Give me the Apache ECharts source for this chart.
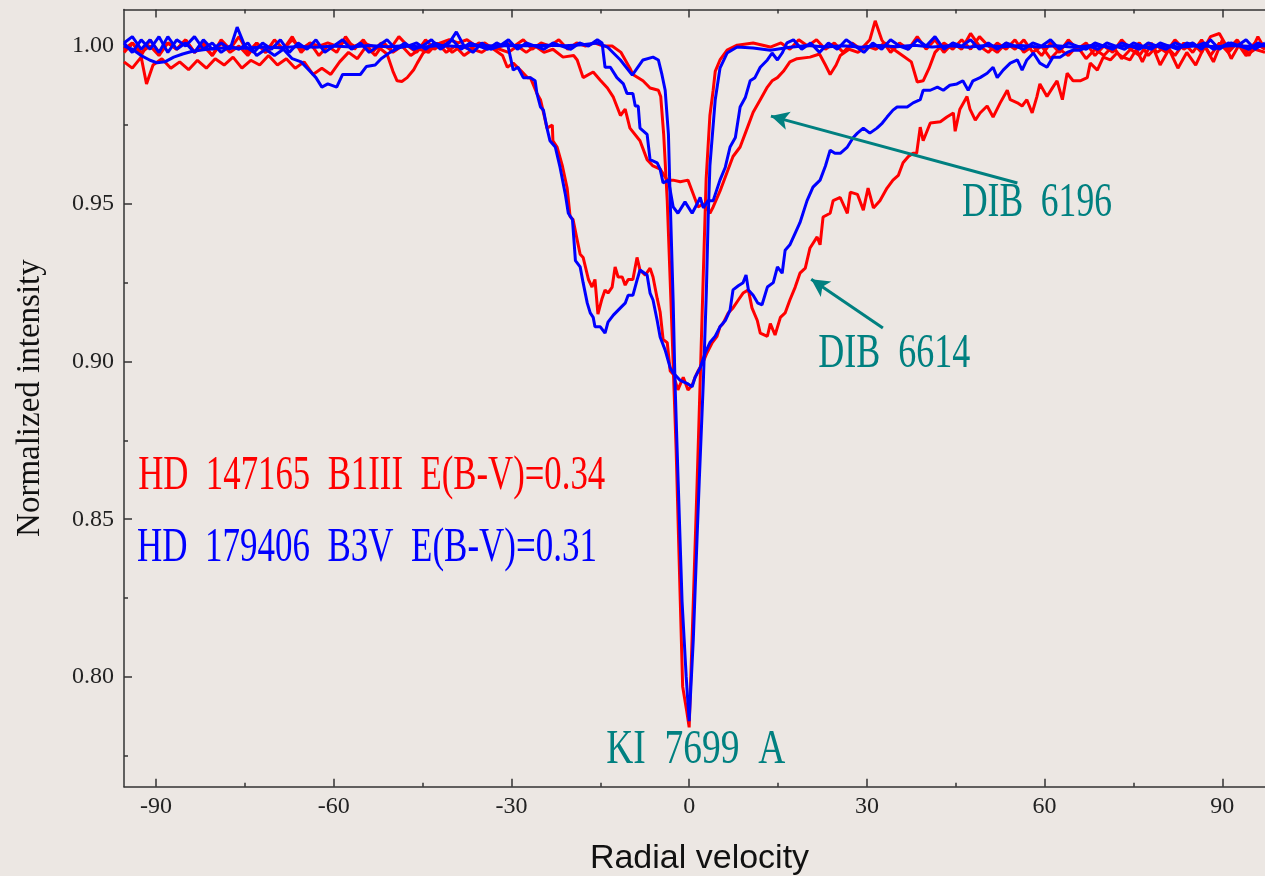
<!DOCTYPE html>
<html><head><meta charset="utf-8">
<script src="https://cdn.jsdelivr.net/npm/echarts@6/dist/echarts.min.js"></script>
<style>html,body{margin:0;padding:0;background:#ece7e3;}#c{width:1265px;height:876px;}</style>
</head><body><div id="c"></div>
<script>
// ---------- DATA: [radial velocity, normalized intensity] ----------
const kiRed = [[-95.4,0.998],[-94,1.001],[-92.5,0.997],[-91,1.002],[-89.5,0.998],[-88,1.001],[-86.5,0.999],[-85,1.002],[-83.5,0.998],[-82,1.001],[-80.5,0.997],[-79,1.002],[-77.5,0.999],[-76,1.003],[-74.5,0.998],[-73,1.001],[-71.5,0.998],[-70,1.002],[-68.5,0.999],[-67,1.003],[-65.5,0.998],[-64,1.001],[-62.5,0.997],[-61,1.000],[-59.5,0.998],[-58,1.003],[-56.5,0.999],[-55,1.002],[-53.5,0.998],[-52,1.001],[-50.5,0.999],[-49,1.003],[-47.5,1.000],[-46,0.998],[-44.5,1.002],[-43,0.999],[-41.5,1.001],[-40,0.998],[-38.5,1.000],[-37,0.999],[-35.5,1.001],[-34,1.000],[-32.5,0.999],[-31,1.001],[-29.5,1.000],[-28,1.002],[-26.5,0.999],[-25,1.001],[-23.5,1.000],[-22,1.002],[-20.5,0.999],[-19,1.001],[-17.5,1.000],[-16,1.001],[-14.5,1.000],[-13,1.000],[-11.5,0.998],[-10,0.993],[-9.5,0.991],[-7.8,0.989],[-6.6,0.9867],[-5.2,0.986],[-4.8,0.984],[-4.3,0.972],[-3.7,0.951],[-2.9,0.91],[-2.2,0.872],[-1.5,0.824],[-1.1,0.797],[-0.4,0.789],[0,0.784],[0.7,0.824],[1.35,0.862],[1.86,0.894],[2.36,0.926],[2.87,0.958],[3.5,0.978],[4.05,0.986],[4.4,0.992],[5.2,0.9956],[6.4,0.9987],[8.1,1.0003],[10.8,1.001],[13.7,0.9997],[15.5,1.001],[17,0.999],[18.5,1.002],[20,1.000],[21.5,1.002],[23,0.999],[24.5,1.001],[26,0.998],[27.5,1.001],[29,0.999],[30.5,1.002],[31.4,1.008],[32.5,1.002],[34,0.998],[35.5,1.001],[37,0.999],[38.5,1.003],[40,0.999],[41.5,1.002],[43,0.998],[44.5,1.001],[46,0.999],[47.5,1.004],[49,1.000],[50.5,0.998],[52,1.001],[53.5,0.999],[55,1.002],[56.5,0.998],[58,1.000],[59.5,0.997],[61,1.001],[62.5,0.998],[64,1.002],[65.5,0.999],[67,1.001],[68.5,0.997],[70,1.000],[71.5,0.998],[73,1.002],[74.5,0.999],[76,1.001],[77.5,0.997],[79,1.000],[80.5,0.998],[82,1.002],[83.5,0.999],[85,1.001],[86.5,0.998],[88,1.003],[89.5,1.004],[91,0.999],[92.5,1.002],[94,0.998],[95.5,1.001],[97.2,0.999]];

const kiBlue = [[-95.4,1.000],[-94,0.999],[-92.5,0.997],[-91,0.9955],[-89.8,0.9947],[-88.5,0.995],[-87,0.9965],[-85.5,0.9975],[-84,0.9983],[-82,0.9988],[-80,0.9992],[-78,0.9995],[-75,0.9993],[-72,0.9997],[-69,0.9995],[-66,0.9999],[-63,0.9996],[-60,1.000],[-57,0.9997],[-54,1.0002],[-51,0.9998],[-48,1.0001],[-45,0.9997],[-42,1.0002],[-39,0.9999],[-36,1.0003],[-33,1.0000],[-30,1.0002],[-27,1.0001],[-24,1.0003],[-21,1.0001],[-18,1.0004],[-15.5,1.001],[-13.8,0.9997],[-11.6,0.9956],[-9.6,0.9908],[-7.8,0.9956],[-6.1,0.9965],[-5.2,0.9956],[-4.6,0.991],[-4.05,0.986],[-3.5,0.972],[-3.2,0.951],[-2.7,0.919],[-2.4,0.894],[-1.86,0.862],[-1.2,0.824],[-0.5,0.80],[0,0.786],[0.7,0.812],[1.35,0.845],[1.7,0.862],[2.4,0.894],[2.9,0.922],[3.2,0.945],[3.5,0.962],[4.4,0.983],[5.2,0.993],[6.4,0.9978],[8.1,0.9997],[10.8,0.9994],[13.7,0.9987],[17,0.9996],[20,1.0002],[23,0.9997],[26,1.0001],[29,0.9996],[32,1.0002],[35,0.9998],[38,1.0003],[41,0.9997],[44,1.0001],[47,0.9996],[50,1.0002],[53,0.9998],[56,1.0002],[59,0.9997],[62,1.0001],[65,0.9996],[68,1.0002],[71,0.9998],[74,1.0001],[77,0.9996],[80,1.0002],[83,0.9997],[86,1.0001],[89,0.9998],[92,1.0002],[95,0.9999],[97.2,1.0001]];

const dib6196Red = [[-95.4,0.995],[-94,0.993],[-92.5,0.9965],[-91.6,0.988],[-90.5,0.994],[-89,0.996],[-87.5,0.993],[-86,0.995],[-84.5,0.9925],[-83,0.9955],[-81.5,0.993],[-80,0.996],[-78.5,0.994],[-77,0.9965],[-75.5,0.993],[-74,0.9955],[-72.5,0.994],[-71,0.997],[-69.5,0.994],[-68,0.996],[-66.5,0.993],[-65,0.995],[-63.5,0.991],[-62,0.993],[-60.5,0.991],[-59,0.995],[-57.5,0.998],[-56,0.996],[-54.5,1.000],[-53,0.997],[-51.5,1.001],[-50,0.998],[-48.5,1.000],[-47,0.997],[-45.5,0.999],[-44,0.998],[-42.5,1.001],[-41,0.998],[-39.5,1.000],[-38,0.997],[-36.5,0.999],[-35,0.998],[-33.5,1.000],[-32,0.999],[-30.5,0.998],[-29,1.000],[-27.5,0.998],[-26,1.000],[-24.5,0.998],[-23,0.999],[-21.3,0.9965],[-19.5,0.997],[-18.9,0.9956],[-17.9,0.990],[-16.2,0.9918],[-15,0.9892],[-13.8,0.9867],[-12.8,0.9838],[-11.6,0.978],[-10.8,0.980],[-10,0.974],[-8.3,0.970],[-7.1,0.964],[-6.1,0.962],[-4.9,0.961],[-3.7,0.9575],[-2.7,0.9575],[-1.5,0.957],[-0.2,0.9575],[0.7,0.953],[1.5,0.949],[2.4,0.950],[3.5,0.947],[4.05,0.949],[5.2,0.954],[6.4,0.960],[7.4,0.965],[8.6,0.968],[9.8,0.974],[10.8,0.979],[12.0,0.983],[13.2,0.987],[14.0,0.989],[14.9,0.990],[15.9,0.992],[17.0,0.995],[18.2,0.996],[20.4,0.9965],[22,0.9975],[23,0.994],[23.8,0.991],[24.8,0.994],[25.5,0.997],[27,0.999],[28.5,0.998],[30,1.000],[31.5,0.999],[33,1.001],[34.5,0.999],[36,0.997],[37.5,0.995],[38.5,0.9886],[39.5,0.989],[40.5,0.993],[41.5,0.998],[43,1.001],[44.5,0.999],[46,1.002],[47.5,0.999],[49,1.003],[50.5,1.000],[52,0.998],[53.5,1.001],[55,0.999],[56.5,1.002],[58,0.998],[59.5,1.000],[61,0.996],[62.5,0.999],[64,0.997],[65.5,1.000],[67,0.996],[68.5,0.999],[70,0.997],[71.5,1.000],[73,0.996],[74.5,0.999],[76,0.997],[77.5,1.001],[79,0.998],[80.5,1.000],[82,0.997],[83.5,1.001],[85,0.998],[86.5,1.002],[88,0.997],[89.5,1.001],[91,0.998],[92.5,1.001],[94,0.997],[95.5,0.999],[97.2,0.998]];

const dib6196Blue = [[-95.4,1.001],[-94,1.003],[-92.5,0.999],[-91,1.002],[-89.5,0.998],[-88,1.003],[-86.5,0.999],[-85,1.001],[-83.5,0.998],[-82,1.002],[-80.5,0.999],[-79,1.001],[-77.5,0.999],[-76.3,1.006],[-75,1.000],[-73.5,0.998],[-72,1.001],[-70.5,0.999],[-69,1.002],[-67.5,0.998],[-66,1.001],[-64.5,0.999],[-63,1.002],[-61.5,0.998],[-60,1.000],[-58.5,1.002],[-57,0.999],[-55.5,1.001],[-54,0.998],[-52.5,1.000],[-51,1.002],[-49.5,0.999],[-48,1.001],[-46.5,0.999],[-45,1.000],[-43.5,1.002],[-42,0.999],[-40.5,1.001],[-39.3,1.0045],[-38,1.000],[-36.5,0.998],[-35,1.001],[-33.5,0.999],[-32,1.000],[-30.5,1.002],[-29,0.999],[-27.5,1.001],[-26,1.000],[-24.5,0.999],[-23,1.001],[-21.5,1.000],[-20,0.999],[-18.5,1.001],[-17,1.000],[-15.5,1.002],[-14.7,1.001],[-14.2,0.9933],[-13.3,0.9933],[-12.2,0.990],[-11.1,0.988],[-10.5,0.985],[-9.5,0.985],[-9.1,0.981],[-8.6,0.981],[-8.3,0.974],[-7.1,0.972],[-6.6,0.964],[-5.4,0.963],[-4.9,0.961],[-4.4,0.9566],[-3.5,0.9575],[-2.7,0.949],[-1.9,0.947],[-0.7,0.9506],[0.5,0.947],[1.35,0.950],[1.86,0.952],[2.4,0.9487],[3.2,0.951],[4.05,0.951],[5.2,0.9575],[6.1,0.9616],[6.9,0.968],[7.8,0.971],[8.6,0.9807],[9.5,0.9838],[10.3,0.989],[11.1,0.990],[12.0,0.9933],[13.2,0.9956],[14.0,0.9978],[14.9,0.9956],[15.7,0.9978],[16.5,1.001],[17.6,1.002],[19,0.999],[20.5,1.001],[22,0.998],[23.5,1.001],[25,0.999],[26.5,1.002],[28,1.000],[29.5,0.998],[31,1.001],[32.5,0.999],[34,1.002],[35.5,1.000],[37,0.999],[38.5,1.002],[40,1.000],[41.5,1.003],[43,0.999],[44.5,1.001],[46,1.000],[47.5,1.002],[49,0.999],[50.5,1.001],[52,0.999],[53.5,1.001],[55,1.000],[56.5,0.999],[58,1.001],[59.5,1.000],[61,1.002],[62.5,0.999],[64,1.001],[65.5,1.000],[67,0.999],[68.5,1.001],[70,1.000],[71.5,0.999],[73,1.001],[74.5,1.000],[76,0.999],[77.5,1.001],[79,1.000],[80.5,0.999],[82,1.001],[83.5,1.000],[85,1.001],[86.5,0.999],[88,1.002],[89.5,0.999],[91,1.001],[92.5,1.000],[94,1.002],[95.5,0.999],[97.2,1.001]];

const dib6614Red = [[-95.4,0.999],[-94,1.001],[-92.5,0.998],[-91,1.000],[-89.5,0.997],[-88,1.001],[-86.5,0.999],[-85,1.002],[-83.5,0.998],[-82,1.000],[-80.5,0.997],[-79,1.001],[-77.5,0.998],[-76,1.000],[-74.5,0.997],[-73,1.001],[-71.5,0.998],[-70,1.000],[-68.5,0.999],[-67,1.002],[-65.5,0.999],[-64,1.001],[-62.5,1.000],[-61,1.001],[-59.5,1.000],[-58,1.0015],[-56.5,1.000],[-55,1.001],[-53.5,1.000],[-52,0.999],[-51,0.9975],[-50,0.992],[-49.3,0.989],[-48.5,0.9888],[-47.6,0.990],[-46.5,0.9925],[-45.9,0.9946],[-44.9,0.9978],[-43.5,0.9995],[-42,1.001],[-40.5,1.002],[-39,1.001],[-37.5,1.002],[-36,1.000],[-34.5,1.001],[-33,0.999],[-31.5,0.997],[-30.7,0.9933],[-29.7,0.9946],[-28.5,0.9924],[-27.3,0.990],[-26.8,0.990],[-25.7,0.985],[-25.1,0.983],[-24.6,0.979],[-24.0,0.974],[-23.1,0.975],[-23.0,0.970],[-22.3,0.968],[-21.4,0.962],[-20.6,0.955],[-20.1,0.946],[-19.6,0.945],[-18.9,0.9385],[-18.4,0.934],[-17.9,0.933],[-17.0,0.926],[-16.4,0.9236],[-15.9,0.926],[-15.4,0.915],[-14.7,0.920],[-14.2,0.9227],[-13.7,0.9217],[-13.0,0.9236],[-12.5,0.930],[-12.0,0.9268],[-11.3,0.9268],[-10.8,0.9242],[-10.3,0.926],[-9.5,0.926],[-8.8,0.933],[-8.3,0.929],[-7.4,0.9274],[-6.6,0.9296],[-6.1,0.9268],[-5.4,0.920],[-4.9,0.9157],[-4.4,0.907],[-3.7,0.906],[-3.2,0.897],[-2.7,0.896],[-1.9,0.891],[-1.0,0.895],[-0.2,0.891],[0.5,0.8925],[1.0,0.895],[1.5,0.897],[2.4,0.900],[3.0,0.9027],[3.9,0.906],[4.7,0.908],[5.2,0.911],[5.7,0.912],[6.6,0.9154],[7.4,0.917],[8.3,0.9195],[9.1,0.9217],[10.0,0.9227],[10.6,0.917],[11.5,0.913],[12.0,0.909],[13.2,0.908],[13.7,0.912],[14.5,0.9084],[15.4,0.914],[16.2,0.9154],[17.0,0.9195],[17.9,0.9236],[18.7,0.928],[19.6,0.9296],[20.4,0.936],[21.6,0.9395],[22.1,0.937],[22.6,0.9458],[23.8,0.947],[24.3,0.951],[25.5,0.952],[26.7,0.947],[27.2,0.9537],[28.4,0.953],[29.4,0.948],[30.2,0.955],[31.1,0.9487],[32.2,0.951],[33.4,0.955],[34.4,0.9575],[35.3,0.959],[36.1,0.963],[37.0,0.965],[37.8,0.966],[38.4,0.966],[39.0,0.9743],[39.5,0.970],[40.7,0.9756],[42.4,0.976],[43.5,0.9775],[44.6,0.9788],[44.9,0.973],[45.7,0.980],[46.9,0.984],[47.4,0.980],[48.3,0.9765],[49.1,0.9788],[50.3,0.981],[51.3,0.9775],[52.5,0.982],[53.7,0.986],[54.2,0.983],[55.4,0.982],[56.2,0.981],[57.0,0.983],[57.9,0.9788],[58.7,0.984],[59.2,0.988],[60.4,0.984],[61.4,0.987],[62.1,0.989],[63.0,0.983],[63.8,0.9914],[64.8,0.989],[66.0,0.989],[67.2,0.990],[67.7,0.9946],[68.9,0.9924],[69.9,0.9965],[71.1,0.9956],[72.2,0.9978],[73.2,0.9965],[74.4,0.9956],[75.5,0.999],[76.5,0.995],[78,1.001],[79.5,0.994],[81,0.999],[82.5,0.993],[84,0.998],[85.5,0.994],[87,1.000],[88.5,0.995],[90,1.002],[91.5,0.996],[93,1.001],[94.5,0.997],[96,1.003],[97.2,0.999]];

const dib6614Blue = [[-95.4,1.001],[-94,0.998],[-92.5,1.002],[-91,0.999],[-89.5,1.003],[-88,0.998],[-86.5,1.002],[-85,1.000],[-83.5,1.003],[-82,0.999],[-80.5,1.001],[-79,0.998],[-77.5,1.000],[-76,0.999],[-74.5,1.001],[-73,0.997],[-71.5,0.999],[-70,0.997],[-68.5,0.999],[-67,0.996],[-65.5,0.995],[-64,0.992],[-63,0.990],[-62,0.987],[-61,0.988],[-59.5,0.987],[-58.5,0.991],[-57,0.991],[-55.5,0.991],[-54.5,0.9935],[-53,0.994],[-52,0.996],[-50.5,0.998],[-49,0.9995],[-47.5,1.000],[-46,1.001],[-44.5,0.999],[-43,1.001],[-41.5,1.000],[-40,1.002],[-38.5,0.999],[-37,1.001],[-35.5,1.000],[-34,0.999],[-32.5,1.001],[-31.5,1.000],[-30.7,1.001],[-29.7,0.9924],[-28.9,0.9933],[-28.0,0.990],[-26.8,0.990],[-26.0,0.989],[-25.7,0.985],[-25.1,0.9807],[-24.6,0.9797],[-24.0,0.974],[-23.5,0.970],[-22.6,0.968],[-21.8,0.9616],[-20.9,0.953],[-20.4,0.947],[-19.7,0.945],[-19.2,0.932],[-18.4,0.930],[-17.9,0.925],[-17.2,0.9185],[-16.7,0.9154],[-16.2,0.914],[-15.9,0.911],[-15.0,0.911],[-14.2,0.909],[-13.7,0.9125],[-12.8,0.9147],[-11.6,0.917],[-10.8,0.9185],[-10.3,0.921],[-9.5,0.921],[-8.8,0.9258],[-8.3,0.929],[-7.1,0.9274],[-6.6,0.9217],[-6.1,0.9195],[-5.4,0.913],[-4.9,0.9078],[-4.05,0.9036],[-3.2,0.898],[-2.7,0.8964],[-1.5,0.894],[-0.3,0.893],[0.5,0.892],[1.0,0.895],[1.86,0.898],[2.7,0.9027],[3.5,0.906],[4.4,0.908],[5.2,0.911],[6.1,0.913],[6.9,0.9163],[7.4,0.9227],[8.3,0.924],[9.1,0.925],[9.6,0.9274],[10.0,0.9227],[10.8,0.921],[11.6,0.9185],[12.3,0.918],[13.2,0.9236],[14.2,0.925],[14.9,0.930],[15.7,0.928],[16.2,0.9353],[17.0,0.937],[17.9,0.9407],[18.7,0.944],[19.9,0.951],[20.9,0.9553],[22.1,0.9575],[23.0,0.962],[23.8,0.967],[24.6,0.966],[25.5,0.966],[26.7,0.968],[27.7,0.971],[28.4,0.9724],[29.4,0.974],[30.5,0.9724],[31.7,0.974],[32.6,0.9756],[33.4,0.9775],[34.4,0.9797],[35.1,0.9807],[36.8,0.9807],[37.8,0.982],[39.0,0.983],[39.5,0.986],[40.7,0.986],[41.9,0.987],[42.9,0.986],[44.0,0.9876],[45.2,0.988],[46.2,0.989],[47.1,0.986],[47.9,0.989],[49.1,0.990],[50.3,0.9914],[51.3,0.9933],[52.0,0.990],[53.0,0.9924],[54.2,0.9946],[55.4,0.9956],[56.2,0.9924],[57.0,0.9956],[58.1,0.9978],[59.2,0.9946],[60.4,0.9933],[61.4,0.9965],[62.6,0.9965],[63.8,0.998],[64.8,0.9987],[66.0,0.9987],[67.5,1.000],[69,0.999],[70.5,1.001],[72,1.000],[73.5,0.999],[75,1.001],[76.5,1.000],[78,0.999],[79.5,1.001],[81,1.000],[82.5,0.999],[84,1.001],[85.5,1.000],[87,1.001],[88.5,0.999],[90,1.000],[91.5,1.001],[93,1.000],[94.5,0.999],[96,1.001],[97.2,1.000]];

// tick values
const xMajorTicks = [-90, -60, -30, 0, 30, 60, 90];
const xMinorTicks = [-75, -45, -15, 15, 45, 75];
const yMajorTicks = [0.80, 0.85, 0.90, 0.95, 1.00];
const yMinorTicks = [0.775, 0.825, 0.875, 0.925, 0.975];

// annotations (text anchored in data coordinates)
const annoTexts = ['HD  147165  B1III  E(B-V)=0.34', 'HD  179406  B3V  E(B-V)=0.31', 'KI  7699  A', 'DIB  6196', 'DIB  6614'];
const annoV = [-93.0, -93.2, 1.1, 58.7, 34.6];
const annoI = [0.8637, 0.8407, 0.7769, 0.9502, 0.9022];
// arrows (tail -> head) in data coordinates
const arrowFrom = [[55.4, 0.9566], [32.7, 0.9106]];
const arrowTo = [[13.8, 0.9778], [20.6, 0.9261]];

// ---------- CHART ----------
const X_MIN = -95.4, X_MAX = 97.2, Y_MIN = 0.7652, Y_MAX = 1.0116;
const SERIF = '"Liberation Serif", "Times New Roman", serif';
const SANS = '"Liberation Sans", Arial, sans-serif';
const AX = { color: '#333', width: 1.5 };
const RED = '#ff0000', BLUE = '#0000ff', TEAL = '#008080';

const annoStyle = [
  { fill: RED, size: 49, sx: 0.71, align: 'left' },
  { fill: BLUE, size: 49, sx: 0.714, align: 'left' },
  { fill: TEAL, size: 49, sx: 0.765, align: 'center' },
  { fill: TEAL, size: 48, sx: 0.74, align: 'center' },
  { fill: TEAL, size: 48, sx: 0.75, align: 'center' }
];

const chart = echarts.init(document.getElementById('c'));

function line(name, data, color, extra) {
  return Object.assign({
    name, type: 'line', data, xAxisIndex: 0, yAxisIndex: 0,
    symbol: 'none', showSymbol: false, smooth: false,
    lineStyle: { color, width: 3 }, itemStyle: { color },
    silent: true, animation: false
  }, extra || {});
}

function xAxisDef(grid, pos, ticks, len, showLine, label) {
  return {
    gridIndex: grid, type: 'value', position: pos, min: X_MIN, max: X_MAX,
    axisLine: { show: showLine, onZero: false, lineStyle: AX },
    axisTick: { show: true, inside: true, length: len, customValues: ticks, lineStyle: AX },
    axisLabel: label ? { show: true, customValues: ticks, fontFamily: SERIF, fontSize: 24, color: '#222', margin: 8, formatter: v => String(v) } : { show: false },
    splitLine: { show: false }, minorTick: { show: false }
  };
}
function yAxisDef(grid, ticks, len, showLine, label) {
  return {
    gridIndex: grid, type: 'value', position: 'left', min: Y_MIN, max: Y_MAX,
    axisLine: { show: showLine, onZero: false, lineStyle: AX },
    axisTick: { show: true, inside: true, length: len, customValues: ticks, lineStyle: AX },
    axisLabel: label ? { show: true, customValues: ticks, fontFamily: SERIF, fontSize: 24, color: '#222', margin: 10, formatter: v => Number(v).toFixed(2) } : { show: false },
    splitLine: { show: false }
  };
}

const xMain = xAxisDef(0, 'bottom', xMajorTicks, 8, true, true);
Object.assign(xMain, { name: 'Radial velocity', nameLocation: 'middle', nameGap: 55,
  nameTextStyle: { fontFamily: SANS, fontSize: 34, color: '#111', padding: [0, 0, 0, 10] } });
const yMain = yAxisDef(0, yMajorTicks, 8, true, true);
Object.assign(yMain, { name: 'Normalized intensity', nameLocation: 'middle', nameGap: 77,
  nameTextStyle: { fontFamily: SERIF, fontSize: 33, color: '#111' } });

const gridBox = { left: 124, top: 9.5, right: 0, bottom: 89.3, containLabel: false, outerBoundsMode: 'none' };

chart.setOption({
  backgroundColor: '#ece7e3',
  animation: false,
  grid: [ Object.assign({}, gridBox), Object.assign({}, gridBox) ],
  xAxis: [
    xMain,
    xAxisDef(0, 'top', xMajorTicks, 8, true, false),
    xAxisDef(1, 'bottom', xMinorTicks, 4, false, false),
    xAxisDef(1, 'top', xMinorTicks, 4, false, false)
  ],
  yAxis: [
    yMain,
    yAxisDef(1, yMinorTicks, 4, false, false)
  ],
  series: [
    line('DIB 6614 red', dib6614Red, RED),
    line('DIB 6196 red', dib6196Red, RED),
    line('KI red', kiRed, RED),
    line('DIB 6614 blue', dib6614Blue, BLUE),
    line('DIB 6196 blue', dib6196Blue, BLUE),
    line('KI blue', kiBlue, BLUE, {
      markLine: {
        silent: true, animation: false,
        symbol: ['none', 'arrow'], symbolSize: [14, 18],
        lineStyle: { color: TEAL, width: 3, type: 'solid' },
        label: { show: false }, emphasis: { disabled: true },
        data: arrowFrom.map((f, k) => [{ coord: f }, { coord: arrowTo[k] }])
      }
    })
  ]
});

chart.setOption({
  graphic: annoTexts.map((t, k) => {
    const p = chart.convertToPixel({ xAxisIndex: 0, yAxisIndex: 0 }, [annoV[k], annoI[k]]);
    const s = annoStyle[k];
    return {
      type: 'text', x: p[0], y: p[1], scaleX: s.sx, silent: true, z: 100,
      style: { text: t, fill: s.fill, fontSize: s.size, fontFamily: SERIF, align: s.align, verticalAlign: 'middle' }
    };
  })
});
</script>
</body></html>
